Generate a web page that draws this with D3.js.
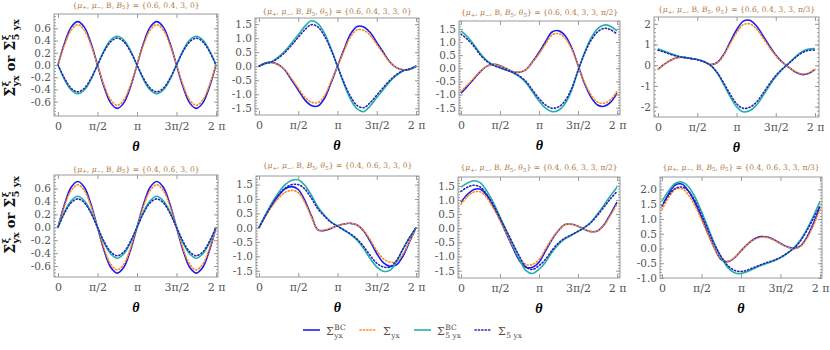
<!DOCTYPE html>
<html>
<head>
<meta charset="utf-8">
<script src="https://cdn.jsdelivr.net/npm/d3@7"></script>
<style>
  body { margin: 0; background: #fff; }
  #chart svg { display: block; }
</style>
</head>
<body>
<div id="chart"></div>
<script>
//Dimensions
const width = 830;
const height = 350;

//Theta samples, step pi/12 from 0 to 2pi
const theta = d3.range(25).map(k => k * Math.PI / 12);
const thetaTickValues = [0, Math.PI / 2, Math.PI, 3 * Math.PI / 2, 2 * Math.PI];
const thetaTickLabels = ["0", "π/2", "π", "3π/2", "2 π"];

//Panel titles
const titleValues = ["0.6, 0.4, 3, 0", "0.6, 0.4, 3, 3, 0", "0.6, 0.4, 3, 3, π/2", "0.6, 0.4, 3, 3, π/3",
                     "0.4, 0.6, 3, 0", "0.4, 0.6, 3, 3, 0", "0.4, 0.6, 3, 3, π/2", "0.4, 0.6, 3, 3, π/3"];
const hasTheta5 = [false, true, true, true, false, true, true, true];

//Y tick values
const yTicksSmall = [-0.6, -0.4, -0.2, 0, 0.2, 0.4, 0.6];
const yTicksHalf = [-1.5, -1, -0.5, 0, 0.5, 1, 1.5];
const yTicksInt = [-2, -1, 0, 1, 2];
const yTicksLast = [-1, -0.5, 0, 0.5, 1, 1.5, 2];

//Panel 1: {0.6, 0.4, 3, 0}
const p1BC = [0, 0.36, 0.62, 0.71, 0.62, 0.36, 0, -0.36, -0.62, -0.71, -0.62, -0.36, 0, 0.36, 0.62, 0.71, 0.62, 0.36, 0, -0.36, -0.62, -0.71, -0.62, -0.36, 0];
const p1Yx = [0, 0.33, 0.57, 0.66, 0.57, 0.33, 0, -0.33, -0.57, -0.66, -0.57, -0.33, 0, 0.33, 0.57, 0.66, 0.57, 0.33, 0, -0.33, -0.57, -0.66, -0.57, -0.33, 0];
const p1BC5 = [0, -0.24, -0.41, -0.47, -0.41, -0.24, 0, 0.24, 0.41, 0.47, 0.41, 0.24, 0, -0.24, -0.41, -0.47, -0.41, -0.24, 0, 0.24, 0.41, 0.47, 0.41, 0.24, 0];
const p1Yx5 = [0, -0.22, -0.38, -0.44, -0.38, -0.22, 0, 0.22, 0.38, 0.44, 0.38, 0.22, 0, -0.22, -0.38, -0.44, -0.38, -0.22, 0, 0.22, 0.38, 0.44, 0.38, 0.22, 0];

//Panel 2: {0.6, 0.4, 3, 3, 0}
const p2BC = [0, 0.12, 0.13, 0.05, -0.15, -0.5, -0.85, -1.2, -1.4, -1.42, -1.15, -0.6, 0, 0.6, 1.15, 1.42, 1.4, 1.2, 0.85, 0.5, 0.15, -0.05, -0.13, -0.12, 0];
const p2Yx = [0, 0.11, 0.12, 0.04, -0.14, -0.45, -0.78, -1.1, -1.28, -1.3, -1.05, -0.55, 0, 0.55, 1.05, 1.3, 1.28, 1.1, 0.78, 0.45, 0.14, -0.04, -0.12, -0.11, 0];
const p2BC5 = [0, 0.1, 0.17, 0.33, 0.55, 0.83, 1.12, 1.42, 1.62, 1.52, 1.18, 0.64, 0, -0.64, -1.18, -1.52, -1.62, -1.42, -1.12, -0.83, -0.55, -0.33, -0.17, -0.1, 0];
const p2Yx5 = [0, 0.1, 0.16, 0.3, 0.5, 0.76, 1.03, 1.3, 1.48, 1.4, 1.08, 0.59, 0, -0.59, -1.08, -1.4, -1.48, -1.3, -1.03, -0.76, -0.5, -0.3, -0.16, -0.1, 0];

//Panel 3: {0.6, 0.4, 3, 3, pi/2}
const p3BC = [-0.95, -0.68, -0.4, -0.12, 0.08, 0.15, 0.1, -0.02, -0.13, -0.15, -0.05, 0.25, 0.6, 1.0, 1.38, 1.43, 1.25, 0.8, 0.12, -0.58, -1.1, -1.4, -1.45, -1.3, -0.95];
const p3Yx = [-0.88, -0.63, -0.37, -0.11, 0.08, 0.15, 0.1, -0.02, -0.13, -0.15, -0.05, 0.23, 0.55, 0.92, 1.27, 1.32, 1.15, 0.74, 0.1, -0.53, -1.01, -1.29, -1.33, -1.2, -0.88];
const p3BC5 = [1.42, 1.2, 0.9, 0.55, 0.28, 0.12, 0.02, -0.07, -0.17, -0.32, -0.55, -0.9, -1.25, -1.52, -1.65, -1.6, -1.35, -0.85, -0.1, 0.6, 1.15, 1.5, 1.65, 1.6, 1.42];
const p3Yx5 = [1.3, 1.1, 0.83, 0.5, 0.26, 0.11, 0.02, -0.07, -0.16, -0.3, -0.5, -0.83, -1.15, -1.4, -1.52, -1.47, -1.24, -0.78, -0.09, 0.55, 1.06, 1.38, 1.52, 1.47, 1.3];

//Panel 4: {0.6, 0.4, 3, 3, pi/3}
const p4BC = [-0.2, 0.05, 0.25, 0.37, 0.38, 0.33, 0.28, 0.18, 0.03, 0.12, 0.5, 1.1, 1.7, 2.12, 2.17, 1.92, 1.45, 0.95, 0.5, 0.15, -0.1, -0.33, -0.45, -0.4, -0.2];
const p4Yx = [-0.2, 0.05, 0.24, 0.36, 0.37, 0.32, 0.27, 0.17, 0.03, 0.11, 0.46, 1.02, 1.57, 1.95, 2.0, 1.77, 1.34, 0.88, 0.46, 0.14, -0.09, -0.3, -0.42, -0.37, -0.2];
const p4BC5 = [0.8, 0.68, 0.55, 0.45, 0.38, 0.33, 0.28, 0.18, 0.0, -0.35, -0.9, -1.5, -2.0, -2.25, -2.2, -1.95, -1.5, -1.0, -0.55, -0.2, 0.1, 0.4, 0.65, 0.78, 0.8];
const p4Yx5 = [0.73, 0.63, 0.52, 0.43, 0.37, 0.32, 0.27, 0.17, 0.0, -0.33, -0.83, -1.38, -1.85, -2.08, -2.03, -1.8, -1.38, -0.92, -0.5, -0.18, 0.09, 0.37, 0.6, 0.72, 0.73];

//Panel 5: {0.4, 0.6, 3, 0}
const p5BC = [0, 0.36, 0.62, 0.71, 0.62, 0.36, 0, -0.36, -0.62, -0.71, -0.62, -0.36, 0, 0.36, 0.62, 0.71, 0.62, 0.36, 0, -0.36, -0.62, -0.71, -0.62, -0.36, 0];
const p5Yx = [0, 0.33, 0.57, 0.66, 0.57, 0.33, 0, -0.33, -0.57, -0.66, -0.57, -0.33, 0, 0.33, 0.57, 0.66, 0.57, 0.33, 0, -0.33, -0.57, -0.66, -0.57, -0.33, 0];
const p5BC5 = [0, 0.24, 0.41, 0.48, 0.41, 0.24, 0, -0.24, -0.41, -0.48, -0.41, -0.24, 0, 0.24, 0.41, 0.48, 0.41, 0.24, 0, -0.24, -0.41, -0.48, -0.41, -0.24, 0];
const p5Yx5 = [0, 0.22, 0.38, 0.44, 0.38, 0.22, 0, -0.22, -0.38, -0.44, -0.38, -0.22, 0, 0.22, 0.38, 0.44, 0.38, 0.22, 0, -0.22, -0.38, -0.44, -0.38, -0.22, 0];

//Panel 6: {0.4, 0.6, 3, 3, 0}
const p6BC = [0, 0.42, 0.8, 1.12, 1.35, 1.43, 1.33, 0.95, 0.42, -0.08, -0.1, -0.03, 0.07, 0.13, 0.15, 0.09, -0.12, -0.48, -0.9, -1.22, -1.35, -1.3, -1.0, -0.5, 0];
const p6Yx = [0, 0.4, 0.75, 1.03, 1.23, 1.3, 1.22, 0.88, 0.38, -0.08, -0.08, -0.01, 0.07, 0.13, 0.15, 0.09, -0.1, -0.42, -0.8, -1.08, -1.2, -1.18, -0.92, -0.48, 0];
const p6BC5 = [0, 0.45, 0.87, 1.23, 1.5, 1.65, 1.67, 1.48, 1.13, 0.72, 0.43, 0.2, 0.06, -0.09, -0.24, -0.44, -0.73, -1.08, -1.37, -1.52, -1.49, -1.2, -0.75, -0.35, 0];
const p6Yx5 = [0, 0.43, 0.82, 1.15, 1.38, 1.5, 1.5, 1.35, 1.03, 0.66, 0.4, 0.19, 0.05, -0.08, -0.22, -0.4, -0.66, -0.97, -1.24, -1.37, -1.37, -1.15, -0.75, -0.35, 0];

//Panel 7: {0.4, 0.6, 3, 3, pi/2}
const p7BC = [0.92, 1.2, 1.37, 1.38, 1.15, 0.75, 0.3, -0.2, -0.7, -1.15, -1.38, -1.38, -1.2, -0.8, -0.4, -0.08, 0.13, 0.14, 0.07, -0.04, -0.12, -0.1, 0.12, 0.5, 0.92];
const p7Yx = [0.85, 1.12, 1.28, 1.28, 1.07, 0.7, 0.28, -0.18, -0.65, -1.07, -1.28, -1.28, -1.11, -0.74, -0.37, -0.07, 0.12, 0.14, 0.07, -0.04, -0.12, -0.1, 0.1, 0.46, 0.85];
const p7BC5 = [1.45, 1.6, 1.68, 1.6, 1.3, 0.9, 0.4, -0.1, -0.6, -1.1, -1.5, -1.6, -1.45, -1.2, -0.85, -0.57, -0.38, -0.25, -0.12, 0.03, 0.22, 0.5, 0.82, 1.15, 1.45];
const p7Yx5 = [1.3, 1.45, 1.52, 1.45, 1.18, 0.82, 0.36, -0.09, -0.55, -1.0, -1.37, -1.46, -1.32, -1.1, -0.78, -0.52, -0.35, -0.23, -0.11, 0.03, 0.2, 0.46, 0.75, 1.04, 1.3];

//Panel 8: {0.4, 0.6, 3, 3, pi/3}
const p8BC = [1.42, 1.85, 2.15, 2.18, 1.95, 1.55, 1.05, 0.5, 0.0, -0.38, -0.45, -0.32, -0.08, 0.15, 0.32, 0.4, 0.39, 0.3, 0.17, 0.06, 0.0, 0.08, 0.38, 0.85, 1.42];
const p8Yx = [1.32, 1.72, 2.0, 2.03, 1.82, 1.45, 0.98, 0.47, 0.0, -0.35, -0.43, -0.31, -0.08, 0.14, 0.3, 0.38, 0.37, 0.28, 0.16, 0.05, -0.01, 0.06, 0.34, 0.78, 1.32];
const p8BC5 = [1.6, 1.95, 2.2, 2.25, 2.1, 1.75, 1.25, 0.7, 0.15, -0.3, -0.65, -0.82, -0.85, -0.78, -0.68, -0.58, -0.5, -0.42, -0.32, -0.17, 0.02, 0.28, 0.65, 1.1, 1.6];
const p8Yx5 = [1.45, 1.8, 2.03, 2.08, 1.95, 1.62, 1.15, 0.63, 0.12, -0.28, -0.58, -0.74, -0.78, -0.73, -0.64, -0.55, -0.47, -0.4, -0.3, -0.16, 0.0, 0.25, 0.6, 1.02, 1.45];

const panelSeries = [
    [p1BC, p1Yx, p1BC5, p1Yx5], [p2BC, p2Yx, p2BC5, p2Yx5], [p3BC, p3Yx, p3BC5, p3Yx5], [p4BC, p4Yx, p4BC5, p4Yx5],
    [p5BC, p5Yx, p5BC5, p5Yx5], [p6BC, p6Yx, p6BC5, p6Yx5], [p7BC, p7Yx, p7BC5, p7Yx5], [p8BC, p8Yx, p8BC5, p8Yx5]
];

//Legend labels: base, superscript, subscript
const legendLabels = [["Σ", "BC", "yx"], ["Σ", "", "yx"], ["Σ", "BC", "5 yx"], ["Σ", "", "5 yx"]];

//Styles of the four series
const seriesStyle = [
    { color: "#1a1af5", dash: null },
    { color: "#ff8a1c", dash: "1.2,2.2" },
    { color: "#22b0aa", dash: null },
    { color: "#2424b8", dash: "1.2,2.2" }
];

//Panel layout (frame box, theta range, y domain)
const layout = [
    { l: 54, r: 218, t: 14, b: 116, x0: 58, x1: 216, yd: [-0.835, 0.835], ticks: yTicksSmall, minor: 0.05, fmt: ".1f", titleY: 7.5 },
    { l: 255, r: 419, t: 18, b: 115, x0: 259, x1: 416, yd: [-1.74, 1.72], ticks: yTicksHalf, minor: 0.1, fmt: ".1f", titleY: 14 },
    { l: 459, r: 620, t: 21, b: 115, x0: 461, x1: 617, yd: [-1.78, 1.8], ticks: yTicksHalf, minor: 0.1, fmt: ".1f", titleY: 15 },
    { l: 654, r: 819, t: 17, b: 117, x0: 658, x1: 815, yd: [-2.5, 2.33], ticks: yTicksInt, minor: 0.2, fmt: "d", titleY: 12 },
    { l: 54, r: 218, t: 175, b: 277, x0: 58, x1: 216, yd: [-0.77, 0.81], ticks: yTicksSmall, minor: 0.05, fmt: ".1f", titleY: 171.5 },
    { l: 256, r: 419, t: 176, b: 277, x0: 259, x1: 416, yd: [-1.72, 1.8], ticks: yTicksHalf, minor: 0.1, fmt: ".1f", titleY: 168 },
    { l: 458, r: 620, t: 177, b: 278, x0: 461, x1: 617, yd: [-1.76, 1.81], ticks: yTicksHalf, minor: 0.1, fmt: ".1f", titleY: 170 },
    { l: 660, r: 822, t: 177, b: 278, x0: 662, x1: 820, yd: [-1.0, 2.42], ticks: yTicksLast, minor: 0.1, fmt: ".1f", titleY: 169.5 }
];

const serif = "'DejaVu Serif', serif";
const frameColor = "#9a9a9a";
const tickTextColor = "#555";

//Create the svg element
const svg = d3.select("#chart").append("svg").attr("width", width).attr("height", height);

//Style helper for axes
const styleAxis = (sel, showText, size) => {
    sel.select(".domain").remove();
    sel.selectAll(".tick line").attr("stroke", frameColor);
    sel.attr("font-family", serif).attr("font-size", size || 11);
    sel.selectAll(".tick text").attr("fill", tickTextColor);
    if (!showText) sel.selectAll(".tick text").remove();
};

//Draw each panel
layout.forEach((p, i) => {
    const xscale = d3.scaleLinear().domain([0, 2 * Math.PI]).range([p.x0, p.x1]);
    const yscale = d3.scaleLinear().domain(p.yd).range([p.b, p.t]);
    const g = svg.append("g").attr("class", "panel");

    g.append("clipPath").attr("id", "clip" + i).append("rect")
        .attr("x", p.l).attr("y", p.t).attr("width", p.r - p.l).attr("height", p.b - p.t);

    const line = d3.line()
        .x((d, j) => xscale(theta[j]))
        .y(d => yscale(d))
        .curve(d3.curveCatmullRom.alpha(0.5));

    panelSeries[i].forEach((values, s) => {
        g.append("path")
            .attr("d", line(values))
            .attr("clip-path", `url(#clip${i})`)
            .attr("fill", "none")
            .attr("stroke", seriesStyle[s].color)
            .attr("stroke-width", 1.6)
            .attr("stroke-dasharray", seriesStyle[s].dash)
            .attr("stroke-linecap", seriesStyle[s].dash ? "round" : "butt");
    });

    //Minor tick values
    const minorTicks = d3.range(Math.ceil(p.yd[0] / p.minor - 1e-6), Math.floor(p.yd[1] / p.minor + 1e-6) + 1)
        .map(k => +(k * p.minor).toFixed(3));
    const fmt = d => d3.format(p.fmt)(d).replace("−", "-");

    //Axes with ticks pointing inward
    g.append("g").attr("transform", `translate(0, ${p.b})`)
        .call(d3.axisBottom(xscale).tickValues(thetaTickValues).tickFormat((d, j) => thetaTickLabels[j]).tickSize(-4).tickPadding(6))
        .call(sel => styleAxis(sel, true, 11));
    g.append("g").attr("transform", `translate(0, ${p.t})`)
        .call(d3.axisTop(xscale).tickValues(thetaTickValues).tickSize(-4))
        .call(sel => styleAxis(sel, false));
    g.append("g").attr("transform", `translate(${p.l}, 0)`)
        .call(d3.axisLeft(yscale).tickValues(p.ticks).tickFormat(fmt).tickSize(-4).tickPadding(3))
        .call(sel => styleAxis(sel, true, 10.5));
    g.append("g").attr("transform", `translate(${p.l}, 0)`)
        .call(d3.axisLeft(yscale).tickValues(minorTicks).tickFormat("").tickSize(-2))
        .call(sel => styleAxis(sel, false));
    g.append("g").attr("transform", `translate(${p.r}, 0)`)
        .call(d3.axisRight(yscale).tickValues(p.ticks).tickSize(-4))
        .call(sel => styleAxis(sel, false));
    g.append("g").attr("transform", `translate(${p.r}, 0)`)
        .call(d3.axisRight(yscale).tickValues(minorTicks).tickSize(-2))
        .call(sel => styleAxis(sel, false));

    //Frame
    g.append("rect").attr("x", p.l).attr("y", p.t).attr("width", p.r - p.l).attr("height", p.b - p.t)
        .attr("fill", "none").attr("stroke", frameColor).attr("stroke-width", 1);

    //Title
    const title = g.append("text").attr("x", (p.l + p.r) / 2).attr("y", p.titleY)
        .attr("text-anchor", "middle").attr("font-family", serif).attr("font-size", 7.6).attr("fill", "#b27a45");
    const segs = [["{"], ["μ", "i"], ["+", "s"], [", "], ["μ", "i"], ["−", "s"], [", B, "], ["B", "i"], ["5", "s"]];
    if (hasTheta5[i]) segs.push([", "], ["θ", "i"], ["5", "s"]);
    segs.push(["} = {" + titleValues[i] + "}"]);
    let shifted = false;
    segs.forEach(([txt, kind]) => {
        const ts = title.append("tspan").text(txt);
        if (kind === "i") ts.attr("font-style", "italic");
        if (kind === "s") { ts.attr("dy", 1.7).attr("font-size", 5.5); shifted = true; }
        else if (shifted) { ts.attr("dy", -1.7); shifted = false; }
    });

    //X label
    g.append("text").attr("x", (p.l + p.r) / 2).attr("y", p.b + 35)
        .attr("text-anchor", "middle").attr("font-family", "'Liberation Serif', serif")
        .attr("font-size", 14).attr("font-weight", "bold").attr("font-style", "italic").text("θ");
});

//Helper to draw a base symbol with stacked superscript and subscript
const scriptLabel = (g, x, y, base, sup, sub, size) => {
    const t = g.append("text").attr("x", x).attr("y", y).attr("font-size", size).text(base);
    const w = t.node().getComputedTextLength();
    let w2 = 0;
    if (sup) {
        const s = g.append("text").attr("x", x + w + 0.5).attr("y", y - size * 0.42).attr("font-size", size * 0.68).text(sup);
        w2 = Math.max(w2, s.node().getComputedTextLength());
    }
    if (sub) {
        const s = g.append("text").attr("x", x + w + 0.5).attr("y", y + size * 0.32).attr("font-size", size * 0.68).text(sub);
        w2 = Math.max(w2, s.node().getComputedTextLength());
    }
    return x + w + 0.5 + w2;
};

//Y axis labels (one per row)
[58, 215].forEach(cy => {
    const outer = svg.append("g").attr("transform", `translate(15, ${cy}) rotate(-90)`);
    const inner = outer.append("g").attr("font-family", serif).attr("font-weight", "bold").attr("fill", "#111");
    let cx = scriptLabel(inner, 0, 0, "Σ", "ξ", "yx", 14);
    const orText = inner.append("text").attr("x", cx + 4).attr("y", 0).attr("font-size", 13).text("or");
    cx += 4 + orText.node().getComputedTextLength() + 5;
    cx = scriptLabel(inner, cx, 0, "Σ", "ξ", "5 yx", 14);
    inner.attr("transform", `translate(${-cx / 2}, 0)`);
});

//Legend
const legendX = [303, 360, 414, 475];
const legend = svg.append("g").attr("id", "legend").attr("font-family", serif).attr("fill", "#5e4b3c");
legendLabels.forEach((lab, s) => {
    legend.append("line")
        .attr("x1", legendX[s]).attr("x2", legendX[s] + 17).attr("y1", 330).attr("y2", 330)
        .attr("stroke", seriesStyle[s].color).attr("stroke-width", 1.6)
        .attr("stroke-dasharray", seriesStyle[s].dash)
        .attr("stroke-linecap", seriesStyle[s].dash ? "round" : "butt");
    scriptLabel(legend, legendX[s] + 23, 334.5, lab[0], lab[1], lab[2], 11);
});
</script>
</body>
</html>
